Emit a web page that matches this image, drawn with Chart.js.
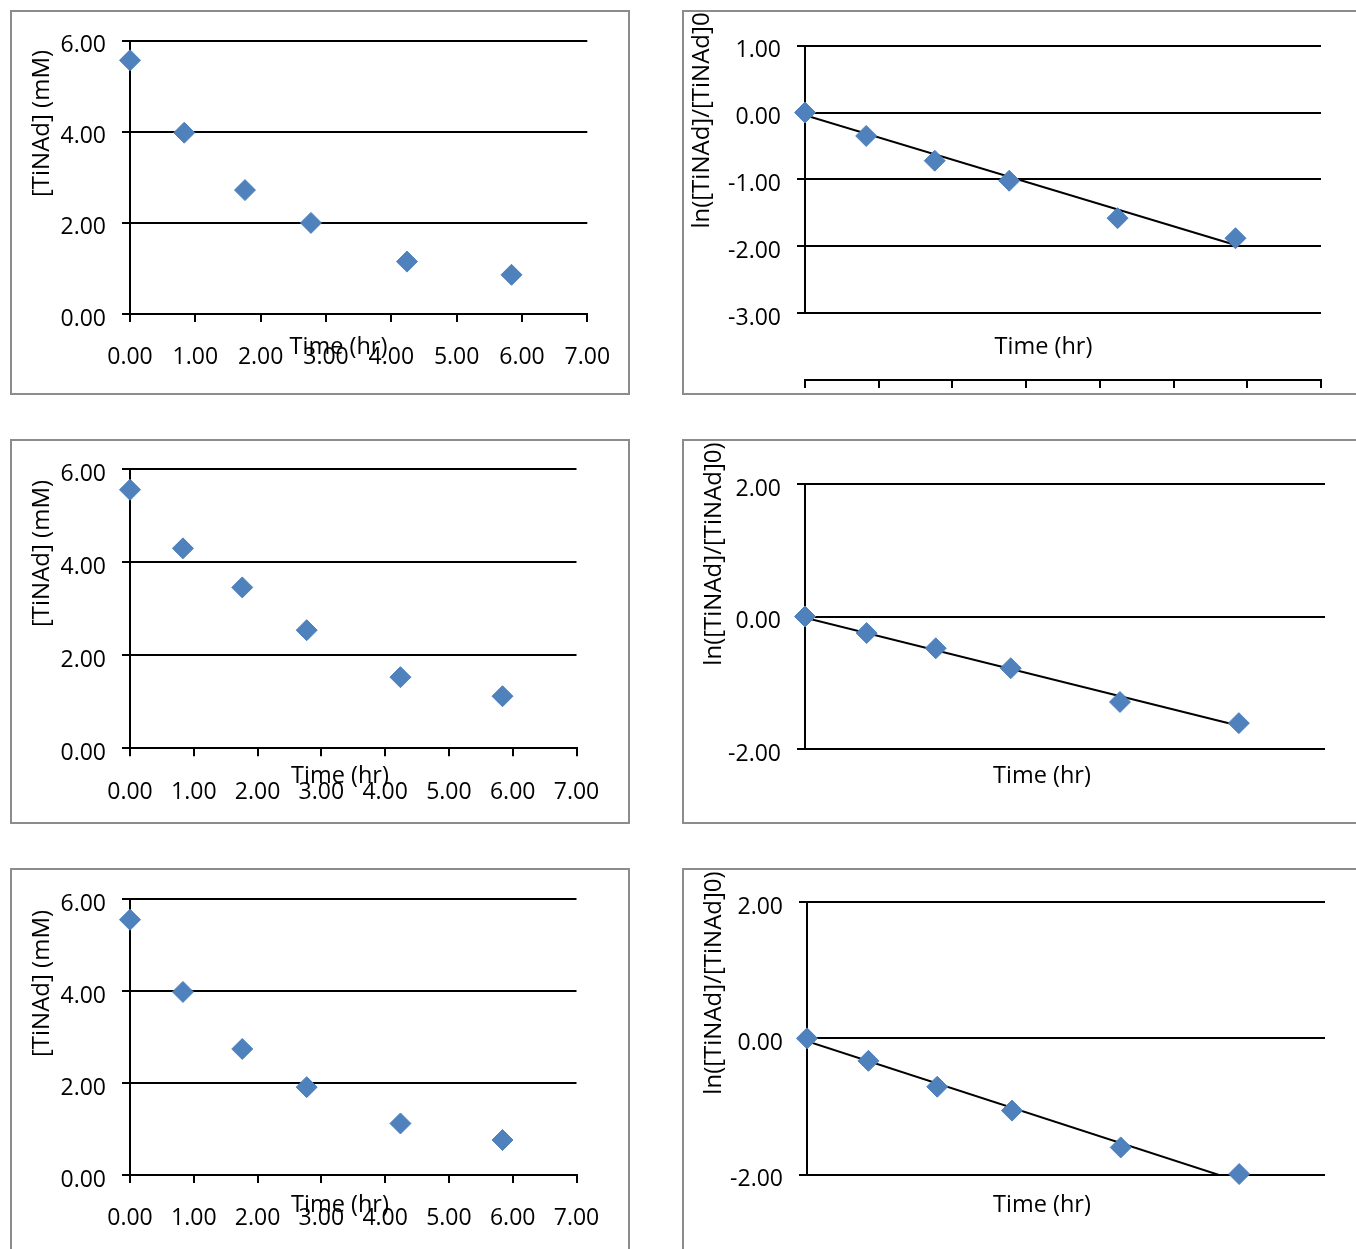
<!DOCTYPE html>
<html>
<head>
<meta charset="utf-8">
<script src="https://cdn.jsdelivr.net/npm/chart.js@4.4.0/dist/chart.umd.min.js"></script>
<style>
  html, body { margin:0; padding:0; background:#fff; width:1356px; height:1249px; overflow:hidden; position:relative; }
  .panel { position:absolute; box-sizing:border-box; border:2px solid #8c8c8c; pointer-events:none; }
  canvas.c { position:absolute; }
</style>
</head>
<body>
<script>
// ---------- data ----------
const timesHr = [0, 0.83, 1.76, 2.77, 4.24, 5.84];

const concRun1 = [5.57, 3.98, 2.72, 2.00, 1.15, 0.86];
const lnRun1   = [0, -0.35, -0.72, -1.02, -1.58, -1.88];

const concRun2 = [5.56, 4.30, 3.46, 2.54, 1.53, 1.12];
const lnRun2   = [0, -0.25, -0.48, -0.78, -1.29, -1.61];

const concRun3 = [5.55, 3.98, 2.74, 1.91, 1.12, 0.76];
const lnRun3   = [0, -0.33, -0.71, -1.06, -1.60, -1.99];

// linear trendline end points (x range of data, y)
const trendX     = [0, 5.84];
const trendRun1  = [-0.04, -1.98];
const trendRun2  = [-0.02, -1.65];
const trendRun3  = [-0.04, -2.10];

const xTitle     = 'Time (hr)';
const concTitle  = '[TiNAd] (mM)';
const lnTitle1   = 'ln([TiNAd]/[TiNAd]0';
const lnTitle    = 'ln([TiNAd]/[TiNAd]0)';

// ---------- styling ----------
const FONT = "'Open Sans', sans-serif";
const BLUE = '#4f81bd';
Chart.defaults.font.family = FONT;
Chart.defaults.color = '#000';

const fmt = v => Number(v).toFixed(2);

function textPlugin(items, offX, offY) {
  return {
    id: 'panelText',
    afterDraw(chart) {
      const ctx = chart.ctx;
      items.forEach(it => {
        ctx.save();
        ctx.font = it.size + 'px ' + FONT;
        ctx.fillStyle = '#000';
        ctx.textAlign = 'center';
        ctx.textBaseline = 'middle';
        ctx.translate(it.x - offX, it.y - offY);
        if (it.rot) ctx.rotate(-Math.PI / 2);
        ctx.fillText(it.text, 0, 0);
        ctx.restore();
      });
    }
  };
}

function axisLinePlugin(fromV, toV) {
  return {
    id: 'yAxisLine',
    beforeDatasetsDraw(chart) {
      const {ctx, scales: {x, y}} = chart;
      const px = x.getPixelForValue(0);
      ctx.save();
      ctx.strokeStyle = '#000';
      ctx.lineWidth = 2;
      ctx.beginPath();
      ctx.moveTo(px, y.getPixelForValue(fromV));
      ctx.lineTo(px, y.getPixelForValue(toV));
      ctx.stroke();
      ctx.restore();
    }
  };
}

function buildPanel(p) {
  const cv = document.createElement('canvas');
  cv.className = 'c';
  cv.width = p.w; cv.height = p.h;
  cv.style.left = p.left + 'px'; cv.style.top = p.top + 'px';
  document.body.appendChild(cv);
  const box = document.createElement('div');
  box.className = 'panel';
  box.style.left = p.left + 'px'; box.style.top = p.top + 'px';
  box.style.width = p.bw + 'px'; box.style.height = p.bh + 'px';
  document.body.appendChild(box);

  const datasets = [{
    data: timesHr.map((t, i) => ({x: t, y: p.ys[i]})),
    pointStyle: 'rectRot', pointRadius: 10.5, pointHoverRadius: 10.5,
    backgroundColor: BLUE, borderColor: BLUE, borderWidth: 1,
    showLine: false, clip: false, order: 0
  }];
  if (p.trend) {
    datasets.push({
      data: trendX.map((t, i) => ({x: t, y: p.trend[i]})),
      showLine: true, pointRadius: 0, borderColor: '#000', borderWidth: 2,
      backgroundColor: '#000', order: 1
    });
  }

  const tickFont = {family: FONT, size: 23};
  const xScale = p.xAxis ? {
    type: 'linear', position: 'bottom', min: 0, max: 7,
    ticks: {display: p.xLabels, stepSize: 1, autoSkip: false, maxRotation: 0, color: '#000',
            font: tickFont, padding: 22, callback: fmt},
    grid: {drawOnChartArea: false, drawTicks: true, tickLength: 8, color: '#000', lineWidth: 2},
    border: {display: true, color: '#000', width: 2},
    afterFit(s) { s.height = p.xH; s.paddingLeft = 0; s.paddingRight = 0; }
  } : {type: 'linear', display: false, min: 0, max: 7};

  const hideV = p.hideV;
  const yScale = {
    type: 'linear', min: p.yMin, max: p.yMax,
    ticks: {stepSize: p.yStep, color: '#000', font: tickFont, padding: 16, labelOffset: 5,
            callback: v => (hideV !== undefined && v === hideV) ? '' : fmt(v)},
    grid: {color: ctx => (hideV !== undefined && ctx.tick && ctx.tick.value === hideV) ? 'rgba(0,0,0,0)' : '#000',
           lineWidth: 2, tickLength: 8, drawTicks: true},
    border: {display: !p.customAxis, color: '#000', width: 2},
    afterFit(s) { s.width = p.yW; s.paddingTop = 0; s.paddingBottom = 0; }
  };

  const plugins = [textPlugin(p.texts, p.left, p.top)];
  if (p.customAxis) plugins.push(axisLinePlugin(p.customAxis[0], p.customAxis[1]));

  new Chart(cv, {
    type: 'scatter',
    data: {datasets},
    options: {
      responsive: false, animation: false, devicePixelRatio: 1,
      layout: {padding: {top: p.padTop, right: p.padRight, bottom: p.padBottom || 0, left: 0}},
      plugins: {legend: {display: false}, tooltip: {enabled: false}},
      scales: {x: xScale, y: yScale}
    },
    plugins
  });
}

// ---------- panels ----------
buildPanel({ left: 10, top: 10, w: 620, h: 385, bw: 620, bh: 385,
  ys: concRun1, yMin: 0, yMax: 6, yStep: 2, yW: 120, padTop: 30.7, padRight: 42.7,
  xAxis: true, xLabels: true, xH: 81,
  texts: [{text: concTitle, x: 42, y: 123.5, rot: true, size: 24},
          {text: xTitle, x: 338.5, y: 347, size: 23.5}] });

buildPanel({ left: 682, top: 10, w: 674, h: 385, bw: 700, bh: 385,
  ys: lnRun1, trend: trendRun1, yMin: -4, yMax: 1, yStep: 1, hideV: -4, customAxis: [1, -3],
  yW: 123, padTop: 35.7, padRight: 35, xAxis: true, xLabels: false, xH: 15,
  texts: [{text: lnTitle1, x: 702, y: 120.5, rot: true, size: 24},
          {text: xTitle, x: 1043.5, y: 347, size: 23.5}] });

buildPanel({ left: 10, top: 439, w: 620, h: 385, bw: 620, bh: 385,
  ys: concRun2, yMin: 0, yMax: 6, yStep: 2, yW: 120, padTop: 30.3, padRight: 53.5,
  xAxis: true, xLabels: true, xH: 75.7,
  texts: [{text: concTitle, x: 42, y: 553.5, rot: true, size: 24},
          {text: xTitle, x: 340, y: 776.5, size: 23.5}] });

buildPanel({ left: 682, top: 439, w: 674, h: 385, bw: 700, bh: 385,
  ys: lnRun2, trend: trendRun2, yMin: -2, yMax: 2, yStep: 2,
  yW: 123, padTop: 45, padRight: 31, padBottom: 75, xAxis: false,
  texts: [{text: lnTitle, x: 714, y: 554, rot: true, size: 24},
          {text: xTitle, x: 1042, y: 776.5, size: 23.5}] });

buildPanel({ left: 10, top: 868, w: 620, h: 381, bw: 620, bh: 400,
  ys: concRun3, yMin: 0, yMax: 6, yStep: 2, yW: 120, padTop: 31, padRight: 53.5,
  xAxis: true, xLabels: true, xH: 74,
  texts: [{text: concTitle, x: 42, y: 983.5, rot: true, size: 24},
          {text: xTitle, x: 340, y: 1205, size: 23.5}] });

buildPanel({ left: 682, top: 868, w: 674, h: 381, bw: 700, bh: 400,
  ys: lnRun3, trend: trendRun3, yMin: -2, yMax: 2, yStep: 2,
  yW: 125, padTop: 34, padRight: 31, padBottom: 74.3, xAxis: false,
  texts: [{text: lnTitle, x: 714, y: 983, rot: true, size: 24},
          {text: xTitle, x: 1042, y: 1205, size: 23.5}] });
</script>
</body>
</html>
